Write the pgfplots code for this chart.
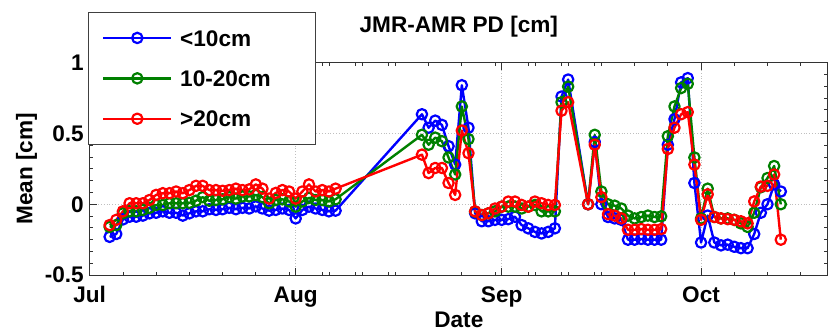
\documentclass[border=0pt]{standalone}
\usepackage{fontspec}
\setmainfont{Liberation Sans}
\usepackage{pgfplots}
\pgfplotsset{compat=1.18}
\definecolor{mblue}{RGB}{0,0,255}
\definecolor{mgreen}{RGB}{0,128,0}
\definecolor{mred}{RGB}{255,0,0}
\pgfplotsset{sty/.style={color=#1, line width=1.2pt, line join=round, mark=o, mark size=2.6pt, mark options={solid, line width=1.1pt}}}
\begin{document}
\fontsize{11.3}{13.5}\selectfont\bfseries
\begin{tikzpicture}
\begin{axis}[
  scale only axis,
  width=369.15pt, height=106.3pt,
  xmin=0, xmax=111.1, ymin=-0.5, ymax=1,
  xtick={0,31,62,92}, xticklabels={Jul,Aug,Sep,Oct},
  minor xtick={5,10,15,20,25,30,35,36,40,41,45,46,51,56,61,66,67,71,72,76,77,82,87,97,102,107},
  ytick={-0.5,0,0.5,1}, yticklabels={-0.5,0,0.5,1},
  minor y tick num=5,
  major tick length=3.5pt, minor tick length=1.75pt,
  tick style={black!80, line width=0.4pt},
  axis line style={black!80, line width=0.5pt},
  grid=major,
  major grid style={densely dotted, gray!50, line width=0.4pt},
  xticklabel style={anchor=base, yshift=-13.5pt, inner sep=0pt},
  yticklabel style={anchor=east, xshift=-2.8pt, inner sep=0pt},
  title={JMR-AMR PD [cm]},
  title style={at={(0.5,1)}, anchor=base, yshift=8.9pt, inner sep=0pt},
  xlabel={Date},
  xlabel style={at={(axis description cs:0.5,0)}, anchor=base, yshift=-26pt, inner sep=0pt},
  ylabel={Mean [cm]},
  ylabel style={at={(axis description cs:-0.0775,0.5)}, anchor=base, inner sep=0pt},
  legend image code/.code={\draw[mark repeat=2,mark phase=2,#1] plot coordinates {(0pt,0pt) (17pt,0pt) (34pt,0pt)};},
  legend style={at={(axis description cs:-0.0023,1.2365)}, anchor=north west,
    draw=black!75, fill=white,
    inner xsep=6.85pt, inner ysep=8.6pt, row sep=12.1pt, column sep=3.85pt,
    nodes={inner sep=0pt, text height=8.1pt, text depth=0pt, anchor=west}},
  legend cell align=left,
]
\addplot[sty=mblue] coordinates {
(3,-0.23)(4,-0.21)(5,-0.107)(6,-0.088)(7,-0.088)(8,-0.08)(9,-0.064)(10,-0.06)(11,-0.05)(12,-0.06)(13,-0.06)(14,-0.08)(15,-0.064)(16,-0.05)(17,-0.05)(18,-0.035)(19,-0.04)(20,-0.035)(21,-0.025)(22,-0.035)(23,-0.025)(24,-0.03)(25,-0.015)(26,-0.03)(27,-0.045)(28,-0.04)(29,-0.03)(30,-0.04)(31,-0.1)(32,-0.04)(33,-0.017)(34,-0.03)(35,-0.04)(36,-0.05)(37,-0.045)
(50,0.635)(51,0.54)(52,0.59)(53,0.56)(54,0.41)(55,0.28)(56,0.84)(57,0.54)
(58,-0.064)(59,-0.12)(60,-0.12)(61,-0.11)(62,-0.11)(63,-0.105)(64,-0.088)(65,-0.147)(66,-0.17)(67,-0.195)(68,-0.206)(69,-0.195)(70,-0.17)
(71,0.76)(72,0.88)(75,0.0)(76,0.44)(77,0.0)(78,-0.09)(79,-0.1)(80,-0.11)(81,-0.25)(82,-0.25)(83,-0.245)(84,-0.25)(85,-0.25)(86,-0.25)(87,0.42)(88,0.6)(89,0.86)(90,0.89)(91,0.15)(92,-0.27)(93,-0.08)(94,-0.27)(95,-0.29)(96,-0.285)(97,-0.3)(98,-0.31)(99,-0.31)(100,-0.21)(101,-0.06)(102,0.0)(103,0.14)(104,0.09)
};
\addlegendentry{\makebox[60.6pt][l]{<10cm}}
\addplot[sty=mgreen] coordinates {
(3,-0.16)(4,-0.147)(5,-0.064)(6,-0.05)(7,-0.05)(8,-0.04)(9,-0.025)(10,-0.005)(11,-0.005)(12,0.007)(13,0.007)(14,0.007)(15,0.01)(16,0.025)(17,0.05)(18,0.025)(19,0.03)(20,0.035)(21,0.05)(22,0.04)(23,0.055)(24,0.055)(25,0.065)(26,0.05)(27,0.007)(28,0.03)(29,0.035)(30,0.02)(31,-0.017)(32,0.02)(33,0.045)(34,0.03)(35,0.03)(36,0.02)(37,0.035)
(50,0.49)(51,0.42)(52,0.47)(53,0.445)(54,0.33)(55,0.21)(56,0.69)(57,0.46)
(58,-0.052)(59,-0.076)(60,-0.064)(61,-0.05)(62,-0.017)(63,-0.017)(64,-0.017)(65,-0.03)(66,-0.017)(67,-0.005)(68,-0.05)(69,-0.05)(70,-0.05)
(71,0.72)(72,0.83)(75,0.0)(76,0.49)(77,0.09)(78,0.0)(79,-0.01)(80,-0.03)(81,-0.08)(82,-0.1)(83,-0.09)(84,-0.08)(85,-0.09)(86,-0.085)(87,0.48)(88,0.69)(89,0.82)(90,0.85)(91,0.33)(92,-0.1)(93,0.11)(94,-0.09)(95,-0.1)(96,-0.1)(97,-0.11)(98,-0.135)(99,-0.16)(100,-0.06)(101,0.12)(102,0.185)(103,0.27)(104,0.0)
};
\addlegendentry{\makebox[60.6pt][l]{10-20cm}}
\addplot[sty=mred] coordinates {
(3,-0.147)(4,-0.11)(5,-0.05)(6,0.007)(7,0.007)(8,0.007)(9,0.03)(10,0.066)(11,0.078)(12,0.078)(13,0.09)(14,0.078)(15,0.1)(16,0.13)(17,0.13)(18,0.1)(19,0.1)(20,0.095)(21,0.1)(22,0.11)(23,0.1)(24,0.105)(25,0.14)(26,0.11)(27,0.04)(28,0.08)(29,0.1)(30,0.09)(31,0.04)(32,0.09)(33,0.14)(34,0.09)(35,0.1)(36,0.09)(37,0.11)
(50,0.35)(51,0.22)(52,0.256)(53,0.256)(54,0.15)(55,0.066)(56,0.52)(57,0.36)
(58,-0.05)(59,-0.076)(60,-0.064)(61,-0.03)(62,-0.017)(63,0.019)(64,0.019)(65,-0.005)(66,-0.017)(67,0.019)(68,0.007)(69,-0.005)(70,-0.005)
(71,0.66)(72,0.72)(75,0.0)(76,0.42)(77,0.05)(78,-0.07)(79,-0.08)(80,-0.1)(81,-0.18)(82,-0.18)(83,-0.175)(84,-0.18)(85,-0.18)(86,-0.175)(87,0.39)(88,0.54)(89,0.635)(90,0.65)(91,0.28)(92,-0.11)(93,0.07)(94,-0.09)(95,-0.1)(96,-0.105)(97,-0.11)(98,-0.12)(99,-0.135)(100,0.02)(101,0.125)(102,0.13)(103,0.21)(104,-0.25)
};
\addlegendentry{\makebox[60.6pt][l]{>20cm}}
\coordinate (bbSW) at (axis description cs:-0.1215,-0.2588);
\coordinate (bbNE) at (axis description cs:1.0014,1.2941);
\end{axis}
\path (bbSW) rectangle (bbNE);
\end{tikzpicture}
\end{document}
